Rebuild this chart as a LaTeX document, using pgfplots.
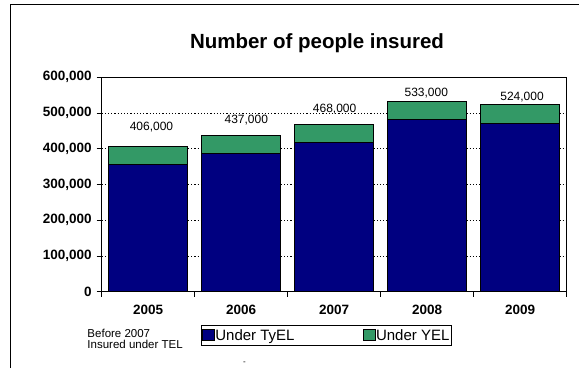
\documentclass[border=0pt]{standalone}
\usepackage{fontspec}
\setmainfont{Liberation Sans}
\usepackage{pgfplots}
\pgfplotsset{compat=1.18}
\definecolor{tyel}{RGB}{0,0,128}
\definecolor{yel}{RGB}{51,153,102}
\begin{document}
\begin{tikzpicture}[x=1pt,y=1pt]
\begin{axis}[
  scale only axis, width=465pt, height=214.4pt,
  xmin=-0.5, xmax=4.5, ymin=0, ymax=600000,
  ybar stacked, bar width=79pt,
  axis line style={line width=0.8pt},
  tick align=outside, tick pos=left,
  major tick length=5pt,
  tick style={black, line width=0.8pt},
  xtick={-0.5,0.5,1.5,2.5,3.5,4.5}, xticklabels={},
  extra x ticks={0,1,2,3,4},
  extra x tick labels={2005,2006,2007,2008,2009},
  extra x tick style={major tick length=0pt, xticklabel style={yshift=-10pt}},
  ytick={0,100000,200000,300000,400000,500000,600000},
  scaled y ticks=false,
  yticklabel style={/pgf/number format/fixed, /pgf/number format/1000 sep={,}, xshift=-1.5pt},
  /pgf/number format/assume math mode=true,
  tick label style={font=\bfseries\fontsize{13.5}{16}\selectfont},
  ymajorgrids,
  major grid style={black, line width=0.6pt, dash pattern=on 1.2pt off 2pt},
  legend columns=2,
  legend style={at={(axis description cs:0.2135,-0.1553)}, anchor=north west,
    draw=black, line width=0.8pt, inner xsep=0.5pt, inner ysep=1pt,
    font=\fontsize{15}{17}\selectfont,
    nodes={inner xsep=1pt, inner ysep=3pt},
    /tikz/every even column/.append style={column sep=67pt}},
  legend cell align=left,
  legend image code/.code={\draw[#1, line width=0.5pt] (0pt,-5pt) rectangle (12pt,6pt);},
]
\addplot[fill=tyel, draw=black, line width=0.7pt] coordinates {(0,357000) (1,386000) (2,417000) (3,481000) (4,472000)};
\addplot[fill=yel, draw=black, line width=0.7pt] coordinates {(0,49000) (1,51000) (2,51000) (3,52000) (4,52000)};
\legend{Under TyEL, Under YEL}
\coordinate (O) at (rel axis cs:0,0);
\node[font=\fontsize{12}{14}\selectfont] at (axis cs:0.035,461000) {406,000};
\node[font=\fontsize{12}{14}\selectfont] at (axis cs:1.055,480600) {437,000};
\node[font=\fontsize{12}{14}\selectfont] at (axis cs:2.005,511000) {468,000};
\node[font=\fontsize{12}{14}\selectfont] at (axis cs:2.99,556000) {533,000};
\node[font=\fontsize{12}{14}\selectfont] at (axis cs:4.02,545000) {524,000};
\end{axis}
\pgfresetboundingbox
\begin{scope}[shift={(O)}, shift={(-101.7,-76.3)}]
\useasboundingbox (0,0) rectangle (579,368);
\draw[line width=1pt] (10.7,0) -- (10.7,363.3) -- (579.5,363.3);
\node[anchor=base, font=\bfseries\fontsize{20.5}{24}\selectfont, inner sep=0pt] at (317,319.7) {Number of people insured};
\node[anchor=base west, inner sep=0pt, font=\fontsize{11.5}{13}\selectfont] at (87.3,30.7) {Before 2007};
\node[anchor=base west, inner sep=0pt, font=\fontsize{11.5}{13}\selectfont] at (87.3,19.7) {Insured under TEL};
\node[inner sep=0pt, font=\fontsize{8}{9}\selectfont] at (244.5,5) {-};
\end{scope}
\end{tikzpicture}
\end{document}
